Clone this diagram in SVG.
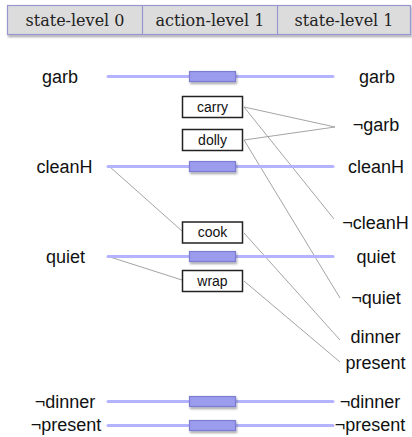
<svg xmlns="http://www.w3.org/2000/svg" width="412" height="437" viewBox="0 0 412 437">
<defs>
<filter id="sh" x="-20%" y="-50%" width="150%" height="250%"><feDropShadow dx="1" dy="2" stdDeviation="1.2" flood-color="#000" flood-opacity="0.35"/></filter>
</defs>
<style>
.hdr{fill:#dcdcdc;stroke:#9898d0;stroke-width:1.2}
.ht{font-family:"DejaVu Serif","Liberation Serif",serif;font-size:16px;fill:#222;text-anchor:middle}
.lab{font-family:"Liberation Sans",Arial,sans-serif;font-size:18px;fill:#111;text-anchor:middle}
.al{font-family:"Liberation Sans",Arial,sans-serif;font-size:14px;fill:#111;text-anchor:middle}
.pl{stroke:#b3b3ff;stroke-width:3;stroke-linecap:round}
.nop{fill:#9c9cee;stroke:#7c7cd0;stroke-width:1.2}
.act{fill:#fff;stroke:#222;stroke-width:1.5}
.c{stroke:#9a9a9a;stroke-width:0.9;fill:none}
</style>
<g id="header">
<rect class="hdr" x="7.5" y="5.5" width="403" height="29" filter="url(#sh)"/>
<line x1="142.5" y1="5.5" x2="142.5" y2="34.5" stroke="#9898d0" stroke-width="1.2"/>
<line x1="277.5" y1="5.5" x2="277.5" y2="34.5" stroke="#9898d0" stroke-width="1.2"/>
<text class="ht" x="75" y="26">state-level 0</text>
<text class="ht" x="210" y="26">action-level 1</text>
<text class="ht" x="344" y="26">state-level 1</text>
</g>
<g id="connectors">
<line class="c" x1="244" y1="107" x2="335" y2="127"/>
<line class="c" x1="244" y1="140" x2="335" y2="127"/>
<line class="c" x1="244" y1="107" x2="334" y2="219"/>
<line class="c" x1="244" y1="140" x2="340" y2="298"/>
<line class="c" x1="110" y1="167" x2="182" y2="231"/>
<line class="c" x1="110" y1="257" x2="182" y2="280"/>
<line class="c" x1="244" y1="233" x2="340" y2="340"/>
<line class="c" x1="244" y1="281" x2="340" y2="362"/>
</g>
<g id="noop-garb">
<line class="pl" x1="108" y1="76.5" x2="333" y2="76.5"/>
<rect class="nop" x="189.5" y="71.5" width="46" height="10" filter="url(#sh)"/>
</g>
<g id="noop-cleanH">
<line class="pl" x1="108" y1="166.5" x2="333" y2="166.5"/>
<rect class="nop" x="189.5" y="161.5" width="46" height="10" filter="url(#sh)"/>
</g>
<g id="noop-quiet">
<line class="pl" x1="108" y1="256.5" x2="333" y2="256.5"/>
<rect class="nop" x="189.5" y="251.5" width="46" height="10" filter="url(#sh)"/>
</g>
<g id="noop-ndinner">
<line class="pl" x1="108" y1="401.5" x2="333" y2="401.5"/>
<rect class="nop" x="189.5" y="396.5" width="46" height="10" filter="url(#sh)"/>
</g>
<g id="noop-npresent">
<line class="pl" x1="108" y1="425.5" x2="333" y2="425.5"/>
<rect class="nop" x="189.5" y="420.5" width="46" height="10" filter="url(#sh)"/>
</g>
<g id="carry"><rect class="act" x="182.5" y="96.5" width="60" height="21"/><text class="al" x="212.5" y="111.5">carry</text></g>
<g id="dolly"><rect class="act" x="182.5" y="129.5" width="60" height="21"/><text class="al" x="212.5" y="144.5">dolly</text></g>
<g id="cook"><rect class="act" x="182.5" y="222" width="60" height="21"/><text class="al" x="212.5" y="237">cook</text></g>
<g id="wrap"><rect class="act" x="182.5" y="270.5" width="60" height="21"/><text class="al" x="212.5" y="285.5">wrap</text></g>
<g id="left-labels">
<text class="lab" x="60" y="83">garb</text>
<text class="lab" x="64.5" y="172.5">cleanH</text>
<text class="lab" x="65.5" y="263">quiet</text>
<text class="lab" x="65" y="407.5">¬dinner</text>
<text class="lab" x="66" y="431">¬present</text>
</g>
<g id="right-labels">
<text class="lab" x="377" y="83">garb</text>
<text class="lab" x="376" y="131">¬garb</text>
<text class="lab" x="376" y="172.5">cleanH</text>
<text class="lab" x="375.5" y="228.5">¬cleanH</text>
<text class="lab" x="376" y="263">quiet</text>
<text class="lab" x="376" y="303.5">¬quiet</text>
<text class="lab" x="375.5" y="343">dinner</text>
<text class="lab" x="375.5" y="368.5">present</text>
<text class="lab" x="370" y="407.5">¬dinner</text>
<text class="lab" x="370" y="431">¬present</text>
</g>
</svg>
